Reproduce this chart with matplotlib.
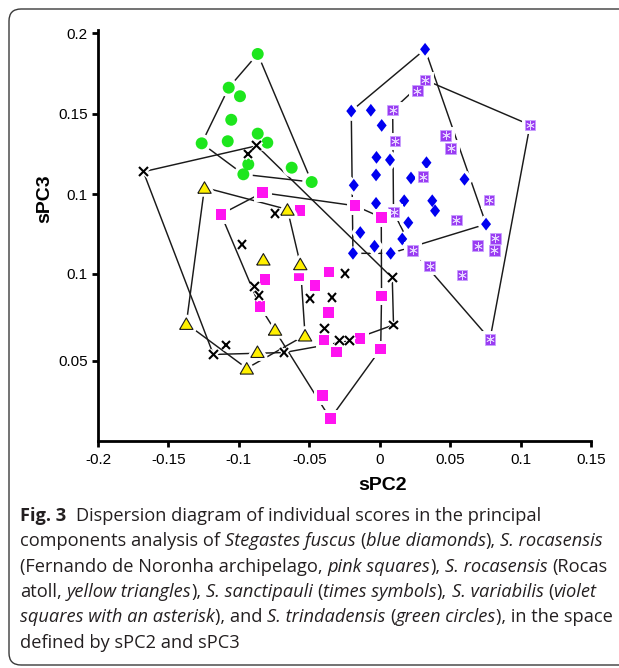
import numpy as np
import matplotlib
matplotlib.use('Agg')
import matplotlib.pyplot as plt
import matplotlib.patheffects as pe
from matplotlib.patches import FancyBboxPatch
from matplotlib.transforms import IdentityTransform

# ---------------- data (sPC2, sPC3) ----------------
fuscus_x = [0.0322, -0.0202, -0.0063, 0.0014, -0.0023, 0.0073, 0.0332, -0.0026, 0.0222, 0.0602, -0.0184,
            -0.0026, 0.0174, 0.0373, 0.0393, 0.0203, 0.0755, 0.0160, -0.0138, -0.0037, -0.0190, 0.0078]
fuscus_y = [0.1899, 0.1516, 0.1521, 0.1427, 0.1229, 0.1213, 0.1196, 0.1120, 0.1101, 0.1093, 0.1056,
            0.0944, 0.0960, 0.0960, 0.0898, 0.0824, 0.0815, 0.0723, 0.0763, 0.0678, 0.0634, 0.0634]

noronha_x = [-0.0833, -0.1127, -0.0566, -0.0175, 0.0011, -0.0814, -0.0850, -0.0573, -0.0459, -0.0360,
             -0.0365, -0.0395, -0.0305, -0.0140, 0.0013, 0.0007, -0.0405, -0.0351]
noronha_y = [0.1010, 0.0876, 0.0898, 0.0929, 0.0857, 0.0473, 0.0304, 0.0497, 0.0433, 0.0518,
             0.0267, 0.0097, 0.0022, 0.0107, 0.0369, 0.0041, -0.0246, -0.0391]

rocas_x = [-0.1244, -0.0655, -0.0826, -0.0564, -0.1373, -0.0743, -0.0530, -0.0868, -0.0944]
rocas_y = [0.1042, 0.0906, 0.0597, 0.0568, 0.0198, 0.0162, 0.0126, 0.0024, -0.0079]

sancti_x = [-0.1678, -0.0873, -0.0935, -0.0743, -0.0978, -0.0891, -0.0857, -0.1181, -0.1091, -0.0679,
            -0.0495, -0.0339, -0.0246, 0.0089, -0.0393, -0.0285, -0.0214, 0.0098]
sancti_y = [0.1140, 0.1301, 0.1250, 0.0882, 0.0690, 0.0427, 0.0374, 0.0007, 0.0066, 0.0019,
            0.0353, 0.0360, 0.0508, 0.0482, 0.0168, 0.0092, 0.0092, 0.0190]

variab_x = [0.0322, 0.0267, 0.0092, 0.0109, 0.0469, 0.0504, 0.0307, 0.0776, 0.0098, 0.0543, 0.1067,
            0.0820, 0.0695, 0.0814, 0.0234, 0.0354, 0.0584, 0.0783]
variab_y = [0.1709, 0.1642, 0.1523, 0.1330, 0.1366, 0.1285, 0.1109, 0.0965, 0.0890, 0.0841, 0.1430,
            0.0727, 0.0681, 0.0652, 0.0653, 0.0555, 0.0500, 0.0101]

trind_x = [-0.0866, -0.1072, -0.0992, -0.1054, -0.1264, -0.1079, -0.0866, -0.0798, -0.0933, -0.0625,
           -0.0968, -0.0483]
trind_y = [0.1870, 0.1661, 0.1608, 0.1462, 0.1316, 0.1329, 0.1376, 0.1320, 0.1186, 0.1165,
           0.1124, 0.1076]

xtick_values = [-0.2, -0.15, -0.1, -0.05, 0.0, 0.05, 0.1, 0.15]
xtick_labels = ['-0.2', '-0.15', '-0.1', '-0.05', '0', '0.05', '0.1', '0.15']
ytick_values = [0.2, 0.1498, 0.1, 0.0506, -0.0033]
ytick_labels = ['0.2', '0.15', '0.1', '0.1', '0.05']

# ---------------- figure ----------------
W, H = 619, 668
fig = plt.figure(figsize=(W / 100, H / 100), dpi=100)
AX_FONT = ['Liberation Sans', 'DejaVu Sans']

ax = fig.add_axes([98 / W, 1 - 441 / H, (591 - 98) / W, (441 - 30) / H])
ax.set_xlim(-0.2, 0.15)
ax.set_ylim(-0.05295, 0.20186)
for s in ['top', 'right']:
    ax.spines[s].set_visible(False)
for s in ['left', 'bottom']:
    ax.spines[s].set_linewidth(2.0)
    ax.spines[s].set_color('black')
ax.set_xticks(xtick_values)
ax.set_xticklabels(xtick_labels, family=AX_FONT, fontsize=11)
ax.set_yticks(ytick_values)
ax.set_yticklabels(ytick_labels, family=AX_FONT, fontsize=11)
ax.tick_params(axis='x', direction='out', length=4, width=2, pad=5)
ax.tick_params(axis='y', direction='out', length=4, width=2, pad=3.5)
ax.patch.set_alpha(0)


def hull(xs, ys):
    pts = sorted(set(zip(xs, ys)))

    def cross(o, a, b):
        return (a[0] - o[0]) * (b[1] - o[1]) - (a[1] - o[1]) * (b[0] - o[0])
    lower = []
    for p in pts:
        while len(lower) >= 2 and cross(lower[-2], lower[-1], p) <= 0:
            lower.pop()
        lower.append(p)
    upper = []
    for p in reversed(pts):
        while len(upper) >= 2 and cross(upper[-2], upper[-1], p) <= 0:
            upper.pop()
        upper.append(p)
    h = lower[:-1] + upper[:-1]
    h.append(h[0])
    return [p[0] for p in h], [p[1] for p in h]


for xs, ys in [(fuscus_x, fuscus_y), (noronha_x, noronha_y), (rocas_x, rocas_y),
               (sancti_x, sancti_y), (variab_x, variab_y), (trind_x, trind_y)]:
    hx, hy = hull(xs, ys)
    ax.plot(hx, hy, color='#1a1a1a', lw=1.05, zorder=2, solid_capstyle='butt')

halo = [pe.Stroke(linewidth=5, foreground='white'), pe.Normal()]
diamond = [(0, 1), (0.78, 0), (0, -1), (-0.78, 0), (0, 1)]
triangle = [(-0.5, -0.43), (0.5, -0.43), (0, 0.43), (-0.5, -0.43)]

ax.plot(trind_x, trind_y, ls='none', marker='o', ms=8.6, mfc='#1de61d', mec='#1de61d', mew=0,
        path_effects=halo, zorder=3)
ax.plot(fuscus_x, fuscus_y, ls='none', marker=diamond, ms=9.2, mfc='#0000f0', mew=0,
        path_effects=halo, zorder=3)
ax.plot(variab_x, variab_y, ls='none', marker='s', ms=7.8, mfc='#9a3cf2', mec='#c8a0ff', mew=0.6,
        path_effects=halo, zorder=3)
ax.plot(variab_x, variab_y, ls='none', marker=(6, 2, 0), ms=6.0, mec='#e6d6ff', mew=0.6, zorder=3.1)
ax.plot(noronha_x, noronha_y, ls='none', marker='s', ms=7.6, mfc='#ff14f0', mew=0,
        path_effects=halo, zorder=3)
ax.plot(rocas_x, rocas_y, ls='none', marker=triangle, ms=9.6, mfc='#fff000', mec='#1a1a1a', mew=0.8,
        path_effects=halo, zorder=3)
ax.plot(sancti_x, sancti_y, ls='none', marker='x', ms=6.3, mec='black', mew=1.5,
        path_effects=[pe.Stroke(linewidth=3.5, foreground='white'), pe.Normal()], zorder=3)

# axis titles
fig.text(383 / W, 1 - 486 / H, 'sPC2', family=AX_FONT, fontsize=14, fontweight='bold',
         ha='center', va='center')
fig.text(45 / W, 1 - 199 / H, 'sPC3', family=AX_FONT, fontsize=14, fontweight='bold',
         ha='center', va='center', rotation=90)

# frame
fig.add_artist(FancyBboxPatch((9, 3), 640, 656, boxstyle='round,pad=0,rounding_size=12',
                              transform=IdentityTransform(), fill=False, ec='#3a3a3a', lw=1.0))

# caption
CAP_FONT = ['Open Sans', 'DejaVu Sans']
CAP_COLOR = '#231f20'
renderer = fig.canvas.get_renderer()
styles = {'n': dict(style='normal', weight='normal'),
          'i': dict(style='italic', weight='normal'),
          'b': dict(style='normal', weight='bold')}

caption = [
    [("Fig. 3", 'b'), ("  Dispersion diagram of individual scores in the principal", 'n')],
    [("components analysis of ", 'n'), ("Stegastes fuscus", 'i'), (" (", 'n'), ("blue diamonds", 'i'),
     ("), ", 'n'), ("S. rocasensis", 'i')],
    [("(Fernando de Noronha archipelago, ", 'n'), ("pink squares", 'i'), ("), ", 'n'),
     ("S. rocasensis", 'i'), (" (Rocas", 'n')],
    [("atoll, ", 'n'), ("yellow triangles", 'i'), ("), ", 'n'), ("S. sanctipauli", 'i'), (" (", 'n'),
     ("times symbols", 'i'), ("), ", 'n'), ("S. variabilis", 'i'), (" (", 'n'), ("violet", 'i')],
    [("squares with an asterisk", 'i'), ("), and ", 'n'), ("S. trindadensis", 'i'), (" (", 'n'),
     ("green circles", 'i'), ("), in the space", 'n')],
    [("defined by sPC2 and sPC3", 'n')],
]


def twidth(s, st, size):
    t = fig.text(0, 0, s, family=CAP_FONT, fontsize=size, **styles[st])
    w = t.get_window_extent(renderer).width
    t.remove()
    return w


def line_width(line, size):
    sw = twidth('a a', 'n', size) - twidth('aa', 'n', size)
    w = 0.0
    for s, st in line:
        lead = len(s) - len(s.lstrip(' '))
        trail = len(s) - len(s.rstrip(' '))
        w += (lead + trail) * sw + twidth(s.strip(' '), st, size)
    return w


# fit the widest full lines to the reference text width (x = 20 .. 612 px)
base = 13.0
widest = max(line_width(l, base) for l in caption[1:5])
CAP_SIZE = base * 591.0 / widest
space_w = twidth('a a', 'n', CAP_SIZE) - twidth('aa', 'n', CAP_SIZE)

base_y = 521
line_h = 25.3
for i, line in enumerate(caption):
    x = 20.0
    y = base_y + i * line_h
    for s, st in line:
        lead = len(s) - len(s.lstrip(' '))
        trail = len(s) - len(s.rstrip(' '))
        core = s.strip(' ')
        x += lead * space_w
        t = fig.text(x / W, 1 - y / H, core, family=CAP_FONT, fontsize=CAP_SIZE, color=CAP_COLOR,
                     ha='left', va='baseline', **styles[st])
        x += t.get_window_extent(renderer).width
        x += trail * space_w

fig.savefig('out.png', dpi=100)
